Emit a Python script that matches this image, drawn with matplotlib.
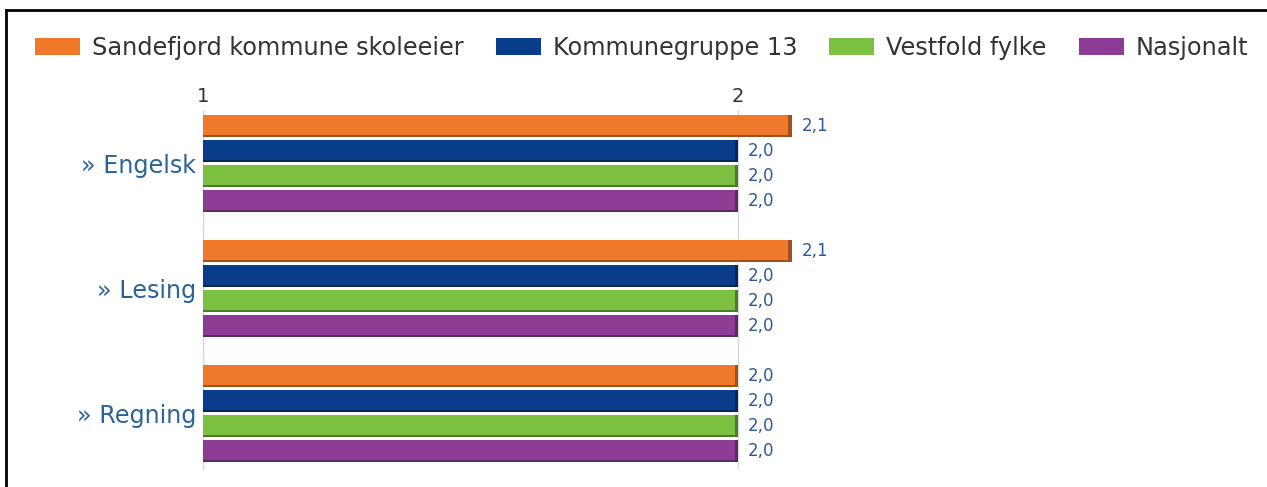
import matplotlib
matplotlib.use("Agg")
import matplotlib.pyplot as plt
from matplotlib.patches import Patch
from matplotlib.lines import Line2D

plt.rcParams["font.family"] = ["DejaVu Sans"]

# ---- data ----
categories = ["» Engelsk", "» Lesing", "» Regning"]
series_names = ["Sandefjord kommune skoleeier", "Kommunegruppe 13", "Vestfold fylke", "Nasjonalt"]
sandefjord = [2.1, 2.1, 2.0]
kommunegruppe = [2.0, 2.0, 2.0]
vestfold = [2.0, 2.0, 2.0]
nasjonalt = [2.0, 2.0, 2.0]
x_ticks = [1, 2]
x_tick_labels = ["1", "2"]

series_values = [sandefjord, kommunegruppe, vestfold, nasjonalt]
colors = ["#F0782A", "#0A3C8C", "#7CC042", "#8C3C94"]
dark_colors = ["#A0501C", "#062858", "#4E7A2C", "#5C2A62"]
label_color = "#2A5A9A"
cat_color = "#2A6496"

W, H = 1267, 487
fig = plt.figure(figsize=(W / 100, H / 100), dpi=100)
fig.patch.set_facecolor("white")

# axes placement (pixels)
x_left_px, x_unit_px = 203, 535
xmin, xmax = 1.0, 2.9
top_px, bot_px = 109.75, 468.5
ax = fig.add_axes([x_left_px / W, 1 - bot_px / H,
                   (xmax - xmin) * x_unit_px / W, (bot_px - top_px) / H])
ax.set_xlim(xmin, xmax)
ax.set_ylim(13.7, -0.65)

group_step = 5
bar_h = 0.9
for j, (vals, c, dc) in enumerate(zip(series_values, colors, dark_colors)):
    ys = [i * group_step + j for i in range(len(categories))]
    widths = [v - xmin for v in vals]
    ax.barh(ys, widths, left=xmin, height=bar_h, color=dc, zorder=3, linewidth=0)
    ax.barh([y - 0.045 for y in ys], [w - 0.006 for w in widths], left=xmin,
            height=bar_h - 0.09, color=c, zorder=4, linewidth=0)
    for y, v in zip(ys, vals):
        ax.text(v + 0.019, y, f"{v:.1f}".replace(".", ","), va="center", ha="left",
                fontsize=12, color=label_color, zorder=5)

# axes styling
for s in ["top", "right", "bottom"]:
    ax.spines[s].set_visible(False)
ax.spines["left"].set_color("#d9d9d9")
ax.spines["left"].set_linewidth(1)
ax.xaxis.tick_top()
ax.set_xticks(x_ticks)
ax.set_xticklabels(x_tick_labels, fontsize=14, color="#333333")
ax.tick_params(axis="x", length=0, pad=3)
ax.xaxis.grid(True, color="#d9d9d9", linewidth=1, zorder=0)
ax.set_axisbelow(True)

centers = [i * group_step + 1.5 for i in range(len(categories))]
ax.set_yticks(centers)
ax.set_yticklabels(categories, fontsize=17.2, color=cat_color)
ax.tick_params(axis="y", length=0, pad=5)

# legend
handles = [Patch(facecolor=c, edgecolor="none") for c in colors]
fs = 17.3
px = fs * 100 / 72
leg = fig.legend(handles, series_names, loc="center left",
                 bbox_to_anchor=(35 / W, 1 - 48 / H), ncol=4, frameon=False,
                 fontsize=fs, handlelength=45 / px, handleheight=18 / px,
                 handletextpad=12 / px, columnspacing=32 / px, borderpad=0,
                 borderaxespad=0)
for t in leg.get_texts():
    t.set_color("#333333")

# partial frame (top and left black lines)
fig.add_artist(Line2D([6 / W, 1], [1 - 10 / H, 1 - 10 / H], color="black", lw=2,
                      transform=fig.transFigure))
fig.add_artist(Line2D([6 / W, 6 / W], [0, 1 - 10 / H], color="black", lw=2,
                      transform=fig.transFigure))

fig.savefig("out.png", dpi=100, facecolor="white")
